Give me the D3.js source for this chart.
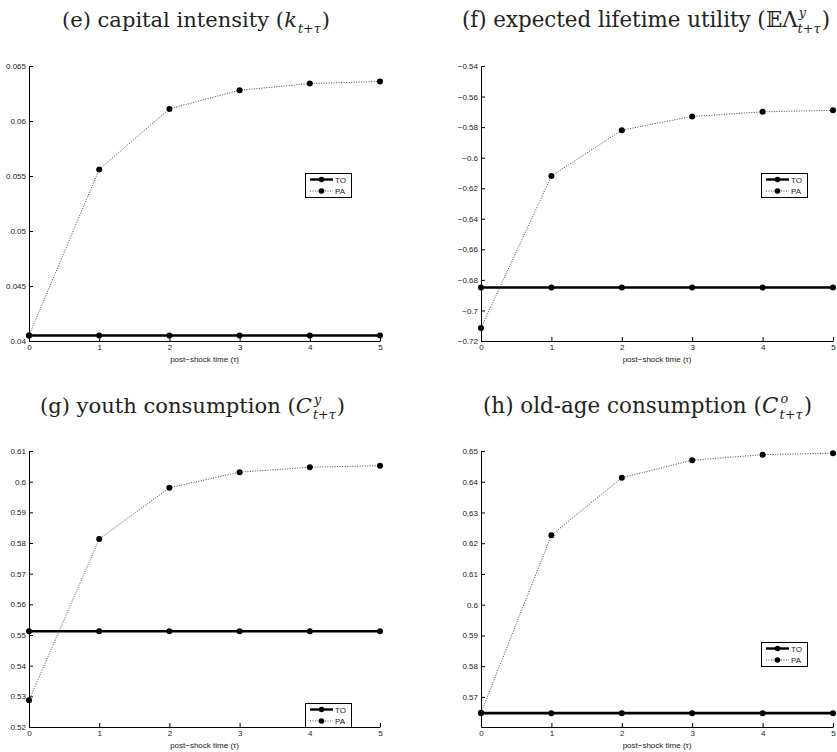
<!DOCTYPE html>
<html>
<head>
<meta charset="utf-8">
<script src="https://cdn.jsdelivr.net/npm/d3@7"></script>
<style>
  body { margin: 0; background: #fff; }
  svg { display: block; }
</style>
</head>
<body>
<div id="chart"></div>
<script>
// ------ DATA ------

const tau = [0, 1, 2, 3, 4, 5];

// (e) capital intensity
const capitalTO = [0.0405, 0.0405, 0.0405, 0.0405, 0.0405, 0.0405];
const capitalPA = [0.0405, 0.0556, 0.0611, 0.0628, 0.0634, 0.0636];
const capitalTicks = [0.04, 0.045, 0.05, 0.055, 0.06, 0.065];

// (f) expected lifetime utility
const utilityTO = [-0.685, -0.685, -0.685, -0.685, -0.685, -0.685];
const utilityPA = [-0.7115, -0.612, -0.582, -0.573, -0.570, -0.569];
const utilityTicks = [-0.72, -0.7, -0.68, -0.66, -0.64, -0.62, -0.6, -0.58, -0.56, -0.54];

// (g) youth consumption
const youthTO = [0.5512, 0.5512, 0.5512, 0.5512, 0.5512, 0.5512];
const youthPA = [0.5287, 0.5813, 0.5980, 0.6031, 0.6047, 0.6052];
const youthTicks = [0.52, 0.53, 0.54, 0.55, 0.56, 0.57, 0.58, 0.59, 0.6, 0.61];

// (h) old-age consumption
const oldTO = [0.5647, 0.5647, 0.5647, 0.5647, 0.5647, 0.5647];
const oldPA = [0.5648, 0.6226, 0.6413, 0.6470, 0.6488, 0.6493];
const oldTicks = [0.57, 0.58, 0.59, 0.6, 0.61, 0.62, 0.63, 0.64, 0.65];

const seriesNames = ['TO', 'PA'];
const xLabel = 'post\u2212shock time (\u03c4)';

// ------ LAYOUT ------

const W = 837, H = 752;

const panels = [
  { x0: 29, x1: 380, y0: 66, y1: 341, domain: [0.04, 0.065], ticks: capitalTicks,
    to: capitalTO, pa: capitalPA, legend: [305, 173],
    title: { left: 62, width: 268, y: 27, pre: '(e) capital intensity (', base: 'k', baseItalic: true, sup: null, sub: 't+\u03c4' } },
  { x0: 481, x1: 833, y0: 66, y1: 341, domain: [-0.72, -0.54], ticks: utilityTicks,
    to: utilityTO, pa: utilityPA, legend: [761, 173],
    title: { left: 462, width: 368, y: 27, pre: '(f) expected lifetime utility (', base: '\ud835\udd3c\u039b', baseItalic: false, sup: 'y', sub: 't+\u03c4' } },
  { x0: 29, x1: 380, y0: 451, y1: 727, domain: [0.52, 0.61], ticks: youthTicks,
    to: youthTO, pa: youthPA, legend: [305, 703],
    title: { left: 40, width: 305, y: 413, pre: '(g) youth consumption (', base: 'C', baseItalic: true, sup: 'y', sub: 't+\u03c4' } },
  { x0: 481, x1: 833, y0: 451, y1: 727, domain: [0.5602, 0.65], ticks: oldTicks,
    to: oldTO, pa: oldPA, legend: [761, 642],
    title: { left: 483, width: 329, y: 413, pre: '(h) old-age consumption (', base: 'C', baseItalic: true, sup: 'o', sub: 't+\u03c4' } },
];

const svg = d3.select('#chart').append('svg')
  .attr('width', W)
  .attr('height', H);

const fmt = v => String(+v.toFixed(6)).replace('-', '\u2212');
const serif = 'DejaVu Serif, Liberation Serif, serif';
const sans = 'Liberation Sans, Arial, sans-serif';

// ------ TITLE WITH SUB/SUPERSCRIPTS ------

function drawTitle(t) {
  // built at a base size, then scaled to the width seen in the picture
  const outer = svg.append('g');
  const g = outer.append('g');
  const fs = 20;
  const pre = g.append('text')
    .attr('font-family', serif).attr('font-size', fs).attr('fill', '#222')
    .text(t.pre);
  let x = pre.node().getComputedTextLength();
  const base = g.append('text')
    .attr('x', x)
    .attr('font-family', serif).attr('font-size', fs).attr('fill', '#222')
    .attr('font-style', t.baseItalic ? 'italic' : 'normal')
    .text(t.base);
  x += base.node().getComputedTextLength() + (t.baseItalic ? 1 : 0);
  let scriptW = 0;
  if (t.sup) {
    const sp = g.append('text')
      .attr('x', x + 1).attr('y', -9)
      .attr('font-family', serif).attr('font-size', 12).attr('font-style', 'italic').attr('fill', '#222')
      .text(t.sup);
    scriptW = sp.node().getComputedTextLength() + 1;
  }
  const sb = g.append('text')
    .attr('x', x).attr('y', 6)
    .attr('font-family', serif).attr('font-size', 12).attr('fill', '#222');
  sb.append('tspan').attr('font-style', 'italic').text('t');
  sb.append('tspan').text('+');
  sb.append('tspan').attr('font-style', 'italic').text('\u03c4');
  scriptW = Math.max(scriptW, sb.node().getComputedTextLength());
  x += scriptW + 1;
  const post = g.append('text')
    .attr('x', x)
    .attr('font-family', serif).attr('font-size', fs).attr('fill', '#222')
    .text(')');
  x += post.node().getComputedTextLength();
  const s = t.width / x;
  outer.attr('transform', `translate(${t.left},${t.y}) scale(${s})`);
}

// ------ PANELS ------

panels.forEach(p => {
  const x = d3.scaleLinear().domain([0, 5]).range([p.x0, p.x1]);
  const y = d3.scaleLinear().domain(p.domain).range([p.y1, p.y0]);

  const g = svg.append('g');

  // axes, ticks pointing inward like MATLAB
  g.append('g')
    .attr('transform', `translate(${p.x0},0)`)
    .call(d3.axisLeft(y).tickValues(p.ticks).tickFormat(fmt)
      .tickSizeInner(-4).tickSizeOuter(0).tickPadding(3))
    .call(a => a.selectAll('text').attr('font-family', sans).attr('font-size', 8).attr('fill', '#222'));

  g.append('g')
    .attr('transform', `translate(0,${p.y1})`)
    .call(d3.axisBottom(x).tickValues(tau).tickFormat(d3.format('d'))
      .tickSizeInner(-4).tickSizeOuter(0).tickPadding(3))
    .call(a => a.selectAll('text').attr('font-family', sans).attr('font-size', 8).attr('fill', '#222'));

  g.append('text')
    .attr('x', (p.x0 + p.x1) / 2)
    .attr('y', p.y1 + 21)
    .attr('text-anchor', 'middle')
    .attr('font-family', sans).attr('font-size', 8).attr('fill', '#222')
    .text(xLabel);

  const line = d3.line().x((d, i) => x(tau[i])).y(d => y(d));

  // PA (dotted)
  g.append('path')
    .datum(p.pa)
    .attr('fill', 'none')
    .attr('stroke', '#444')
    .attr('stroke-width', 1)
    .attr('stroke-dasharray', '1,1.5')
    .attr('d', line);
  g.selectAll('.pa').data(p.pa).join('circle')
    .attr('cx', (d, i) => x(tau[i])).attr('cy', d => y(d)).attr('r', 3).attr('fill', '#000');

  // TO (solid thick)
  g.append('path')
    .datum(p.to)
    .attr('fill', 'none')
    .attr('stroke', '#000')
    .attr('stroke-width', 2.6)
    .attr('d', line);
  g.selectAll('.to').data(p.to).join('circle')
    .attr('cx', (d, i) => x(tau[i])).attr('cy', d => y(d)).attr('r', 3).attr('fill', '#000');

  // legend
  const [lx, ly] = p.legend;
  const lg = g.append('g').attr('transform', `translate(${lx},${ly})`);
  lg.append('rect')
    .attr('x', 0.5).attr('y', 0.5).attr('width', 46).attr('height', 24)
    .attr('fill', '#fff').attr('stroke', '#000').attr('stroke-width', 1);
  seriesNames.forEach((name, i) => {
    const ry = 6.5 + i * 11.5;
    lg.append('line')
      .attr('x1', 5).attr('x2', 28).attr('y1', ry).attr('y2', ry)
      .attr('stroke', i === 0 ? '#000' : '#444')
      .attr('stroke-width', i === 0 ? 2.4 : 1)
      .attr('stroke-dasharray', i === 0 ? null : '1,1.5');
    lg.append('circle').attr('cx', 16.5).attr('cy', ry).attr('r', 2.8).attr('fill', '#000');
    lg.append('text')
      .attr('x', 30).attr('y', ry + 3)
      .attr('font-family', sans).attr('font-size', 8).attr('fill', '#222')
      .text(name);
  });

  drawTitle(p.title);
});
</script>
</body>
</html>
